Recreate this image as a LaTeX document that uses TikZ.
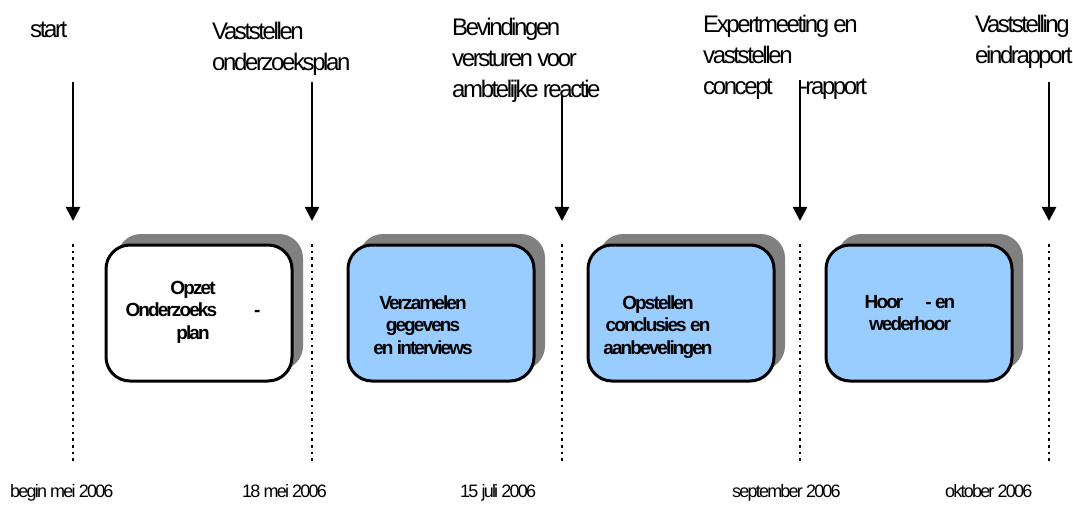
\documentclass[tikz,border=0pt]{standalone}
\usepackage{fontspec}
\setmainfont{Liberation Sans}[LetterSpace=-10]
\usetikzlibrary{arrows.meta,shadows}
\definecolor{phaseblue}{HTML}{99CCFF}
\definecolor{shadowgray}{HTML}{808080}
\tikzstyle{phase}=[draw=black,line width=3pt,rounded corners=24pt,minimum width=186pt,minimum height=136pt,fill=phaseblue,drop shadow={shadow xshift=11pt,shadow yshift=11pt,fill=shadowgray,opacity=1}]
\tikzstyle{phasew}=[phase,fill=white]
\tikzstyle{phasetext}=[align=center,inner sep=0pt,font=\fontsize{19}{22.5}\selectfont\bfseries]
\tikzstyle{toplabel}=[align=left,anchor=north west,inner sep=0pt,font=\fontsize{24}{31}\selectfont]
\tikzstyle{datelabel}=[anchor=base west,inner sep=0pt,font=\fontsize{18}{22}\selectfont]
\tikzstyle{milestone}=[line width=2.5pt,-{Triangle[width=14pt,length=14pt]}]
\tikzstyle{timeline}=[line width=2.5pt,dash pattern=on 2.5pt off 4.2pt]

\begin{document}
\begin{tikzpicture}[x=1pt,y=-1pt]
    \useasboundingbox (0,0) rectangle (1073,505);
    % milestones
    \node[toplabel] (m1) at (30,22)  {start};
    \node[toplabel] (m2) at (212,22) {Vaststellen\\onderzoeksplan};
    \node[toplabel] (m3) at (452,18) {Bevindingen\\versturen voor\\ambtelijke reactie};
    \node[toplabel] (m4) at (703,15) {Expertmeeting en\\vaststellen\\concept\hspace{27pt}-rapport};
    \node[toplabel] (m5) at (975,15) {Vaststelling\\eindrapport};

    \foreach \i/\x/\y in {1/73/82,2/312/82,3/562/95,4/800/80,5/1049/82}
    {
        \coordinate (a\i) at (\x,\y);
        \coordinate (t\i) at (\x,221);
        \coordinate (d\i) at (\x,244);
        \coordinate (e\i) at (\x,462);
        \draw[milestone] (a\i) -- (t\i);
        \draw[timeline] (d\i) -- (e\i);
    }

    % dates
    \node[datelabel] (dt1) at (10,497)  {begin mei 2006};
    \node[datelabel] (dt2) at (242,497) {18 mei 2006};
    \node[datelabel] (dt3) at (460,497) {15 juli 2006};
    \node[datelabel] (dt4) at (732,497) {september 2006};
    \node[datelabel] (dt5) at (945,497) {oktober 2006};

    % phases
    \node[phasew] (p1) at (199,313) {};
    \node[phase]  (p2) at (441,313) {};
    \node[phase]  (p3) at (681,313) {};
    \node[phase]  (p4) at (919,313) {};
    \node[phasetext] at (193,312) {Opzet\\Onderzoeks\hspace{37pt}-\\plan};
    \node[phasetext] at (423,325) {Verzamelen\\gegevens\\en interviews};
    \node[phasetext] at (658,327) {Opstellen\\conclusies en\\aanbevelingen};
    \node[phasetext] at (910,313) {Hoor\hspace{22pt}- en\\wederhoor};
\end{tikzpicture}
\end{document}
